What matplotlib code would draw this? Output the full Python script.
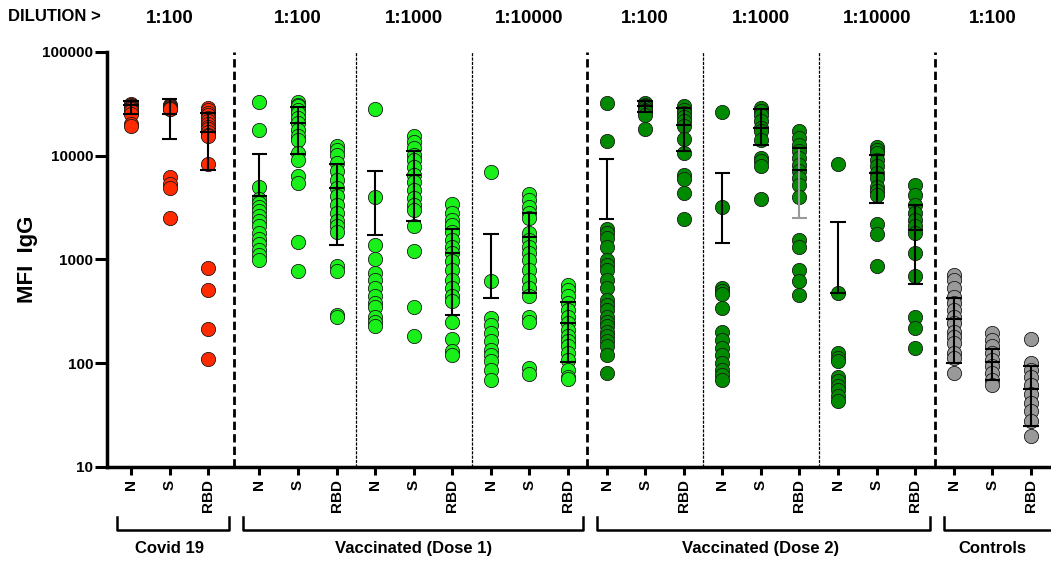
import numpy as np
import matplotlib.pyplot as plt
import matplotlib.transforms as mtransforms

plt.rcParams['font.family'] = ['Liberation Sans', 'DejaVu Sans']
plt.rcParams['font.weight'] = 'bold'

antigens = ["N", "S", "RBD"]
groups = ["Covid 19", "Vaccinated (Dose 1)", "Vaccinated (Dose 2)", "Controls"]
dilutions = ["1:100", "1:100", "1:1000", "1:10000", "1:100", "1:1000", "1:10000", "1:100"]
subgroup_group = [0, 1, 1, 1, 2, 2, 2, 3]
group_colors = ["#ff2a00", "#19f019", "#008a00", "#999999"]

# MFI values per subgroup, [N, S, RBD]
covid = [
    [31500, 30800, 30000, 29500, 28800, 28000, 27000, 25500, 20200, 19500],
    [31000, 30000, 29500, 29000, 28500, 28000, 6300, 5300, 4900, 2500],
    [29000, 27500, 26000, 24500, 23000, 21500, 20000, 19000, 18000, 17000,
     16000, 15500, 8300, 830, 510, 213, 110],
]
dose1_100 = [
    [32700, 17700, 5020, 3820, 3490, 3170, 2910, 2600, 2330, 2080, 1790, 1570,
     1420, 1240, 1110, 990],
    [32700, 31000, 29900, 27800, 25800, 23100, 20700, 17800, 15400, 14300,
     10600, 9150, 6330, 5450, 1490, 766],
    [12500, 11400, 10200, 8490, 7060, 5870, 4880, 4050, 3370, 2800, 2330, 2080,
     1860, 860, 766, 292, 276],
]
dose1_1000 = [
    [28200, 3990, 1370, 1010, 738, 637, 529, 440, 379, 352, 282, 252, 226],
    [15600, 13700, 11900, 10200, 9010, 7780, 6560, 5530, 4700, 3900, 3370,
     3020, 2080, 1220, 352, 184],
    [3420, 2800, 2410, 2160, 1820, 1550, 1330, 1150, 960, 795, 637, 529, 440,
     394, 252, 172, 130, 120],
]
dose1_10000 = [
    [6900, 622, 272, 234, 195, 162, 135, 120, 104, 86, 69],
    [4300, 3760, 3240, 2800, 2500, 1790, 1550, 1330, 1150, 990, 795, 637, 529,
     440, 282, 252, 90, 78],
    [570, 509, 440, 379, 327, 282, 243, 210, 181, 162, 145, 125, 108, 86, 74, 70],
]
dose2_100 = [
    [32200, 14000, 1980, 1790, 1610, 1330, 990, 889, 795, 637, 529, 408, 366,
     327, 282, 252, 226, 202, 181, 162, 145, 120, 81],
    [32200, 31000, 29900, 28800, 27800, 26800, 24900, 18100],
    [29900, 27800, 25800, 23600, 21400, 19500, 14600, 10600, 6560, 5960, 4370, 2470],
]
dose2_1000 = [
    [26200, 3240, 529, 502, 467, 340, 198, 168, 140, 120, 100, 86, 77, 69],
    [28800, 26800, 24900, 21400, 18500, 17200, 14300, 9500, 8810, 7890, 3850],
    [17400, 14800, 12800, 11000, 9500, 8190, 7060, 6100, 5250, 3990, 1550,
     1330, 795, 627, 456],
]
dose2_10000 = [
    [8310, 473, 125, 112, 104, 74, 67, 60, 55, 48, 43],
    [12100, 11400, 10600, 9150, 7890, 6800, 6100, 5050, 4530, 4200, 2190, 1750, 860],
    [5170, 4200, 3370, 2800, 2410, 2080, 1790, 1150, 695, 276, 218, 140],
]
controls = [
    [710, 634, 527, 438, 378, 326, 281, 243, 201, 180, 156, 125, 112, 81],
    [195, 168, 145, 125, 107, 93, 81, 69, 62],
    [170, 100, 86, 74, 62, 51, 41, 35, 28, 20],
]
subgroups = [covid, dose1_100, dose1_1000, dose1_10000,
             dose2_100, dose2_1000, dose2_10000, controls]

# error bars (mean, -SD, +SD); nan = lower arm not drawn
err_mid = [30500, 25100, 16900, 4050, 20700, 4880, 1730, 6560, 1150, 430, 1640, 243,
           2450, 30200, 19800, 1440, 18500, 7300, 473, 6800, 1930, 267, 102, 57]
err_lo = [25000, 14400, 7300, np.nan, 10500, 1390, np.nan, 2330, 292, np.nan, 473, 102,
          np.nan, 26300, 11100, np.nan, 12700, 2500, np.nan, 3490, 578, 101, 69, 25]
err_hi = [34000, 35000, 25800, 10500, 29200, 8310, 7170, 11200, 1960, 1750, 2800, 385,
          9300, 33700, 28800, 6800, 28200, 12000, 2290, 10100, 3320, 428, 137, 93]

fig = plt.figure(figsize=(10.51, 5.65), dpi=100)
ax = fig.add_axes([0.1018, 0.1735, 0.8982, 0.7345])

positions = []
colors = []
for k, sub in enumerate(subgroups):
    for j in range(3):
        positions.append(3 * k + j + (0.33 if k > 0 else 0))
        colors.append(group_colors[subgroup_group[k]])

col = 0
for k, sub in enumerate(subgroups):
    for vals in sub:
        x = positions[col]
        ax.scatter(np.full(len(vals), x), vals, s=105, c=colors[col],
                   edgecolors="#1a1a1a", linewidths=0.6, zorder=3)
        col += 1

hw = 0.2
for i, x in enumerate(positions):
    lo = err_lo[i] if not np.isnan(err_lo[i]) else err_mid[i]
    bar_color = "#999999" if i == 17 else "black"
    ax.vlines(x, lo, err_hi[i], color=bar_color, lw=1.5, zorder=4)
    ax.hlines([err_hi[i], err_mid[i]], x - hw, x + hw, color="black", lw=1.5, zorder=4)
    if not np.isnan(err_lo[i]):
        ax.hlines(err_lo[i], x - hw, x + hw, color=bar_color, lw=1.5, zorder=4)

# dividers between dilution blocks
dividers = []
for k in range(len(subgroups) - 1):
    xd = (positions[3 * k + 2] + positions[3 * k + 3]) / 2
    thick = subgroup_group[k] != subgroup_group[k + 1]
    dividers.append(xd)
    if thick:
        ax.axvline(xd, color="black", lw=2, ls=(0, (3, 1.5)), zorder=1)
    else:
        ax.axvline(xd, color="black", lw=0.9, ls=(0, (2.5, 1)), zorder=1)

ax.set_yscale("log")
ax.set_ylim(10, 100000)
ax.set_xlim(-0.622, 23.85)
ax.set_yticks([10, 100, 1000, 10000, 100000])
ax.set_yticklabels(["10", "100", "1000", "10000", "100000"])
ax.yaxis.set_minor_locator(plt.NullLocator())
ax.set_xticks(positions)
ax.set_xticklabels(antigens * len(subgroups), rotation=90)
ax.tick_params(axis="y", direction="out", length=9, width=2.2, labelsize=11, pad=1)
ax.tick_params(axis="x", direction="out", length=6, width=2.2, labelsize=11, pad=3)
for s in ["top", "right"]:
    ax.spines[s].set_visible(False)
for s in ["left", "bottom"]:
    ax.spines[s].set_linewidth(2.5)
ax.set_ylabel("MFI  IgG", fontsize=16, fontweight="bold", labelpad=3)

# header with dilutions
trans = mtransforms.blended_transform_factory(ax.transData, fig.transFigure)
fig.text(0.052, 0.970, "DILUTION >", fontsize=12, fontweight="bold",
         ha="center", va="center")
for k, d in enumerate(dilutions):
    ax.text(positions[3 * k + 1], 0.968, d, transform=trans, fontsize=13.5,
            fontweight="bold", ha="center", va="center")

# group brackets under the axis
bounds = [ax.get_xlim()[0]] + [dividers[i] for i in range(len(dividers))
                               if subgroup_group[i] != subgroup_group[i + 1]] + [25.5]
for g, name in enumerate(groups):
    x0 = bounds[g] + 0.25
    x1 = bounds[g + 1] - 0.12
    ax.plot([x0, x0, x1, x1], [0.085, 0.062, 0.062, 0.085], transform=trans,
            color="black", lw=1.8, clip_on=False)
    members = [positions[3 * k + j] for k in range(len(subgroups))
               if subgroup_group[k] == g for j in range(3)]
    ax.text(np.mean(members), 0.030, name, transform=trans, fontsize=12,
            fontweight="bold", ha="center", va="center")

fig.savefig("out.png", dpi=100)
